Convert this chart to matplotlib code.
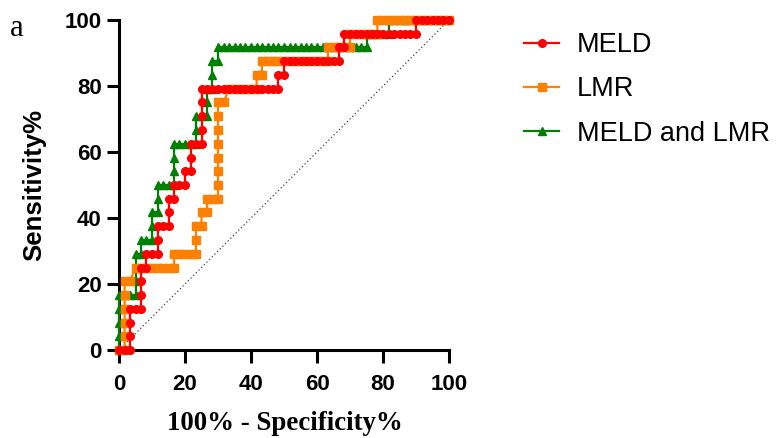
import matplotlib
matplotlib.use('Agg')
import matplotlib.pyplot as plt

# ROC points: x = 100% - Specificity%, y = Sensitivity%
meld_x = [0, 1.7, 3.3, 3.3, 3.3, 3.3, 5, 6.7, 6.7, 6.7, 6.7, 8.3, 8.3, 10, 11.7, 11.7, 11.7,
          13.3, 15, 15, 15, 16.7, 16.7, 18.3, 20, 20, 21.7, 21.7, 21.7, 23.3, 25, 25, 25, 25, 25,
          26.7, 28.3, 30, 31.7, 33.3, 35, 36.7, 38.3, 40, 41.7, 43.3, 45, 46.7, 48.3,
          48.3, 50, 50,
          51.7, 53.3, 55, 56.7, 58.3, 60, 61.7, 63.3, 65, 66.7,
          66.7, 68.3, 68.3,
          70, 71.7, 73.3, 75, 76.7, 78.3, 80, 81.7, 83.3, 85, 86.7, 88.3, 90,
          90, 91.7, 93.3, 95, 96.7, 98.3, 100]
meld_y = [0, 0, 0, 4.2, 8.3, 12.5, 12.5, 12.5, 16.7, 20.8, 25, 25, 29.2, 29.2, 29.2, 33.3, 37.5,
          37.5, 37.5, 41.7, 45.8, 45.8, 50, 50, 50, 54.2, 54.2, 58.3, 62.5, 62.5, 62.5, 66.7, 70.8, 75, 79.2,
          79.2, 79.2, 79.2, 79.2, 79.2, 79.2, 79.2, 79.2, 79.2, 79.2, 79.2, 79.2, 79.2, 79.2,
          83.3, 83.3, 87.5,
          87.5, 87.5, 87.5, 87.5, 87.5, 87.5, 87.5, 87.5, 87.5, 87.5,
          91.7, 91.7, 95.8,
          95.8, 95.8, 95.8, 95.8, 95.8, 95.8, 95.8, 95.8, 95.8, 95.8, 95.8, 95.8, 95.8,
          100, 100, 100, 100, 100, 100, 100]

lmr_x = [0, 1.7, 1.7, 1.7, 1.7, 1.7, 1.7, 3.3, 5, 6.7, 8.3, 10, 11.7, 13.3, 15, 16.7, 16.7,
         18.3, 20, 21.7, 23.3, 23.3, 23.3, 25, 25, 26.7, 26.7, 28.3, 30, 30, 30, 30, 30, 30, 30, 30,
         31.7, 33.3, 35, 36.7, 38.3, 40, 41.7, 41.7, 43.3, 43.3,
         45, 46.7, 48.3, 50, 51.7, 53.3, 55, 56.7, 58.3, 60, 61.7, 63.3,
         63.3, 65, 66.7, 68.3, 70,
         70, 71.7, 73.3, 75, 76.7, 78.3,
         78.3, 80, 81.7, 83.3, 85, 86.7, 88.3, 90, 91.7, 93.3, 95, 96.7, 98.3, 100]
lmr_y = [0, 0, 4.2, 8.3, 12.5, 16.7, 20.8, 20.8, 25, 25, 25, 25, 25, 25, 25, 25, 29.2,
         29.2, 29.2, 29.2, 29.2, 33.3, 37.5, 37.5, 41.7, 41.7, 45.8, 45.8, 45.8, 50, 54.2, 58.3, 62.5, 66.7, 70.8, 75,
         75, 79.2, 79.2, 79.2, 79.2, 79.2, 79.2, 83.3, 83.3, 87.5,
         87.5, 87.5, 87.5, 87.5, 87.5, 87.5, 87.5, 87.5, 87.5, 87.5, 87.5, 87.5,
         91.7, 91.7, 91.7, 91.7, 91.7,
         95.8, 95.8, 95.8, 95.8, 95.8, 95.8,
         100, 100, 100, 100, 100, 100, 100, 100, 100, 100, 100, 100, 100, 100]

both_x = [0, 0, 0, 0, 0, 1.7, 3.3, 5, 5, 5, 5, 6.7, 6.7, 8.3, 10, 10, 10, 11.7, 11.7, 11.7,
          13.3, 15, 16.7, 16.7, 16.7, 16.7, 18.3, 20, 21.7, 23.3, 23.3, 23.3, 25, 26.7, 26.7, 26.7,
          28.3, 28.3, 28.3, 30, 30,
          31.7, 33.3, 35, 36.7, 38.3, 40, 41.7, 43.3, 45, 46.7, 48.3, 50, 51.7, 53.3, 55,
          56.7, 58.3, 60, 61.7, 63.3, 65, 66.7, 68.3, 70, 71.7, 73.3, 75,
          75, 76.7, 78.3, 80, 81.7,
          81.7, 83.3, 85, 86.7, 88.3, 90, 91.7, 93.3, 95, 96.7, 98.3, 100]
both_y = [0, 4.2, 8.3, 12.5, 16.7, 16.7, 16.7, 16.7, 20.8, 25, 29.2, 29.2, 33.3, 33.3, 33.3,
          37.5, 41.7, 41.7, 45.8, 50, 50, 50, 50, 54.2, 58.3, 62.5, 62.5, 62.5, 62.5, 62.5, 66.7,
          70.8, 70.8, 70.8, 75, 79.2, 79.2, 83.3, 87.5, 87.5, 91.7,
          91.7, 91.7, 91.7, 91.7, 91.7, 91.7, 91.7, 91.7, 91.7, 91.7, 91.7, 91.7, 91.7, 91.7, 91.7,
          91.7, 91.7, 91.7, 91.7, 91.7, 91.7, 91.7, 91.7, 91.7, 91.7, 91.7, 91.7,
          95.8, 95.8, 95.8, 95.8, 95.8,
          100, 100, 100, 100, 100, 100, 100, 100, 100, 100, 100, 100]

ticks = [0, 20, 40, 60, 80, 100]

fig = plt.figure(figsize=(7.79, 4.38), dpi=100)
ax = fig.add_axes([119 / 779, 1 - 350 / 438, 330 / 779, 330 / 438])

# chance line
ax.plot([0, 100], [0, 100], color='#444444', lw=0.9, ls=(0, (1, 2)), zorder=1)

ax.plot(both_x, both_y, color='#008000', marker='^', ms=6, lw=1.6,
        label='MELD and LMR', clip_on=False, zorder=3)
ax.plot(lmr_x, lmr_y, color='#FF8000', marker='s', ms=5.5, lw=1.6,
        label='LMR', clip_on=False, zorder=4)
ax.plot(meld_x, meld_y, color='#FF0000', marker='o', ms=5.5, lw=1.6,
        label='MELD', clip_on=False, zorder=5)

ax.set_xlim(0, 100)
ax.set_ylim(0, 100)
ax.set_xticks(ticks)
ax.set_yticks(ticks)
for s in ['top', 'right']:
    ax.spines[s].set_visible(False)
for s in ['left', 'bottom']:
    ax.spines[s].set_linewidth(2.2)
ax.tick_params(direction='out', length=9, width=2.2)
ax.tick_params(axis='x', pad=8)
ax.tick_params(axis='y', pad=3.5)
for lab in ax.get_xticklabels() + ax.get_yticklabels():
    lab.set_fontfamily('Liberation Sans')
    lab.set_fontweight('bold')
    lab.set_fontsize(16)

fig.text(34 / 779, 1 - 185 / 438, 'Sensitivity%', rotation=90, ha='center', va='center',
         fontsize=18.5, fontweight='bold', family='Liberation Sans')
fig.text(285 / 779, 1 - 423 / 438, '100% - Specificity%', ha='center', va='center',
         fontsize=19.4, fontweight='bold', family='Liberation Serif')
fig.text(10 / 779, 1 - 36 / 438, 'a', ha='left', va='baseline',
         fontsize=22, family='Liberation Serif')

h, l = ax.get_legend_handles_labels()
order = [2, 1, 0]
fig.legend([h[i] for i in order], [l[i] for i in order], loc='upper left',
           bbox_to_anchor=(524 / 779, 1 - 32 / 438), frameon=False,
           prop={'family': 'Liberation Sans', 'size': 19.5},
           handlelength=1.3, handletextpad=0.65, labelspacing=0.68,
           borderpad=0, borderaxespad=0)

fig.savefig('out.png', dpi=100)
